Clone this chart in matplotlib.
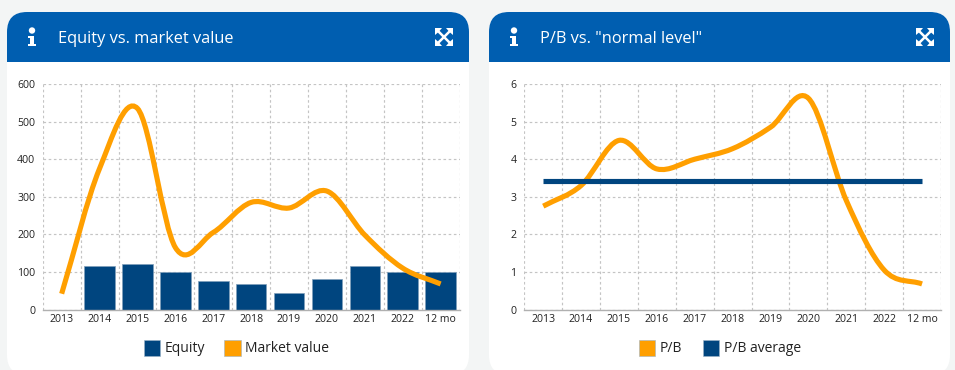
import matplotlib
matplotlib.use("Agg")
import matplotlib.pyplot as plt
from matplotlib.patches import FancyBboxPatch, PathPatch, Rectangle, Circle
from matplotlib.path import Path
from matplotlib.transforms import Affine2D

categories = ["2013", "2014", "2015", "2016", "2017", "2018", "2019", "2020", "2021", "2022", "12 mo"]
equity = [0, 117, 120, 101, 75, 67, 45, 82, 115, 100, 100]
market_value = [42, 375, 535, 165, 205, 285, 270, 315, 198, 110, 68]
pb = [2.75, 3.3, 4.5, 3.74, 4.0, 4.28, 4.85, 5.62, 2.9, 1.05, 0.68]
pb_average = [3.42] * 11
titles = ["Equity vs. market value", 'P/B vs. "normal level"']

W, H = 955, 370
BLUE = "#005EB0"
NAVY = "#00457F"
ORANGE = "#FF9F00"
FONT = "Open Sans"

fig = plt.figure(figsize=(W / 100, H / 100), dpi=100, facecolor="#F3F5F5")
bg = fig.add_axes([0, 0, 1, 1], zorder=0)
bg.set_xlim(0, W); bg.set_ylim(H, 0); bg.axis("off")


def spline_path(xs, ys):
    """Cardinal (Catmull-Rom) spline through the values."""
    n = len(xs)
    verts = [(xs[0], ys[0])]
    codes = [Path.MOVETO]
    slopes = []
    for i in range(n):
        a, b = max(i - 1, 0), min(i + 1, n - 1)
        slopes.append((ys[b] - ys[a]) / (xs[b] - xs[a]))
    for i in range(1, n):
        h = (xs[i] - xs[i - 1]) / 3
        verts += [(xs[i - 1] + h, ys[i - 1] + slopes[i - 1] * h),
                  (xs[i] - h, ys[i] - slopes[i] * h),
                  (xs[i], ys[i])]
        codes += [Path.CURVE4] * 3
    return Path(verts, codes)


def draw_card(x0, x1, title):
    y0, y1, hb, r = 12, 375, 62, 20
    bg.add_patch(FancyBboxPatch((x0 + r, y0 + r), x1 - x0 - 2 * r, y1 - y0 - 2 * r,
                                boxstyle=f"round,pad={r},rounding_size={r}", fc="white", ec="none"))
    clip = FancyBboxPatch((x0 + r, y0 + r), x1 - x0 - 2 * r, y1 - y0 - 2 * r,
                          boxstyle=f"round,pad={r},rounding_size={r}", fc="none", ec="none",
                          transform=bg.transData)
    bg.add_patch(clip)
    hdr = Rectangle((x0, y0), x1 - x0, hb - y0, fc=BLUE, ec="none")
    bg.add_patch(hdr)
    hdr.set_clip_path(clip)
    bg.text(x0 + 51, 37, title, color="white", fontsize=11.8, family=FONT, va="center_baseline", ha="left")
    # info icon
    ix = x0 + 25
    bg.add_patch(Circle((ix, 30.5), 3.2, fc="white", ec="none"))
    bg.add_patch(Rectangle((ix - 3.8, 35.5), 6.2, 2, fc="white", ec="none"))
    bg.add_patch(Rectangle((ix - 2.4, 35.5), 4.8, 9, fc="white", ec="none"))
    bg.add_patch(Rectangle((ix - 4, 43.8), 8, 2.6, fc="white", ec="none"))
    # expand icon
    cx, cy = x1 - 25, 37
    a = 9
    for sx in (-1, 1):
        for sy in (-1, 1):
            bg.plot([cx, cx + sx * (a - 2)], [cy, cy + sy * (a - 2)],
                    color="white", lw=1.8, solid_capstyle="butt")
            bg.add_patch(plt.Polygon([(cx + sx * a, cy + sy * a), (cx + sx * (a - 7), cy + sy * a),
                                      (cx + sx * (a - 4.8), cy + sy * (a - 2.6)),
                                      (cx + sx * (a - 2.6), cy + sy * (a - 4.8)),
                                      (cx + sx * a, cy + sy * (a - 7))], fc="white", ec="none"))


def style_axes(ax, ymax, yticks):
    ax.set_xlim(-0.5, 10.5)
    ax.set_ylim(0, ymax)
    ax.set_xticks(range(11))
    ax.set_xticklabels(categories)
    ax.set_yticks(yticks)
    ax.set_xticks([i + 0.5 for i in range(-1, 11)], minor=True)
    ax.grid(True, which="minor", axis="x", color="#C4C4C4", ls=(0, (2.2, 2.2)), lw=0.85)
    ax.grid(True, which="major", axis="y", color="#C4C4C4", ls=(0, (2.2, 2.2)), lw=0.85)
    ax.set_axisbelow(True)
    ax.tick_params(which="both", length=0)
    ax.tick_params(axis="x", which="major", labelsize=7.6, pad=3, labelcolor="#222222")
    ax.tick_params(axis="y", labelsize=7.6, pad=5.5, labelcolor="#222222")
    for lab in ax.get_xticklabels():
        lab.set_family(FONT)
    for lab in ax.get_yticklabels():
        lab.set_family(FONT)
        lab.set_verticalalignment("center")
        lab.set_transform(lab.get_transform() + Affine2D().translate(0, -1.5))
    for s in ("top", "right", "left"):
        ax.spines[s].set_visible(False)
    ax.spines["bottom"].set_color("#B0B0B0")
    ax.spines["bottom"].set_linewidth(1)
    ax.patch.set_alpha(0)


def axes_at(x0, x1, ytop, ybot):
    return fig.add_axes([x0 / W, 1 - ybot / H, (x1 - x0) / W, (ybot - ytop) / H], zorder=2)


def legend_item(x, y, color, label):
    bg.add_patch(Rectangle((x, y - 8.5), 16.5, 16.5, fc=color, ec="#9DB4C8", lw=0.4))
    bg.text(x + 21, y + 0.5, label, fontsize=10, family=FONT, va="center", ha="left", color="#222222")


draw_card(7, 469, titles[0])
draw_card(489, 950, titles[1])

x = list(range(11))
ax1 = axes_at(42.7, 459.6, 84, 309.5)
style_axes(ax1, 600, [0, 100, 200, 300, 400, 500, 600])
ax1.bar(x, equity, width=0.81, color=NAVY, edgecolor="#7F9FBB", linewidth=0.5, zorder=2)
ax1.add_patch(PathPatch(spline_path(x, market_value), fc="none", ec=ORANGE, lw=3.7, capstyle="butt", zorder=3))

ax2 = axes_at(524.3, 941, 84, 309.5)
style_axes(ax2, 6, [0, 1, 2, 3, 4, 5, 6])
ax2.add_patch(PathPatch(spline_path(x, pb), fc="none", ec=ORANGE, lw=3.7, capstyle="butt", zorder=3))
ax2.plot(x, pb_average, color=NAVY, lw=3.7, solid_capstyle="butt", zorder=4)

legend_item(143.5, 348, NAVY, "Equity")
legend_item(224, 348, ORANGE, "Market value")
legend_item(638.5, 348, ORANGE, "P/B")
legend_item(702.5, 348, NAVY, "P/B average")

fig.savefig("out.png", dpi=100, facecolor=fig.get_facecolor())
